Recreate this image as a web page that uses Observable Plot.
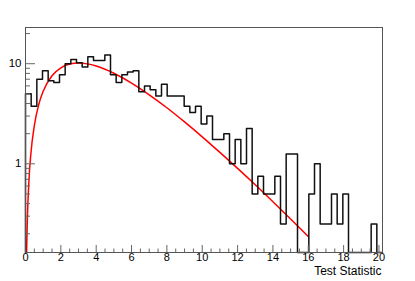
<!DOCTYPE html>
<html>
<head>
<meta charset="utf-8">
<script src="https://cdn.jsdelivr.net/npm/d3@7"></script>
<script src="https://cdn.jsdelivr.net/npm/@observablehq/plot@0.6"></script>
<style>
  html, body { margin: 0; padding: 0; background: #fff; }
  #chart { width: 415px; height: 281px; }
</style>
</head>
<body>
<div id="chart"></div>
<script>
// Histogram bin contents (63 equal bins spanning 0 .. xMax)
const counts = [
  5.0, 3.75, 7.0, 8.5, 6.75, 6.5, 7.75, 10.0, 11.0, 10.25,
  9.25, 11.75, 10.75, 10.75, 12.25, 7.75, 6.5, 7.75, 8.25, 8.5,
  5.25, 6.0, 5.5, 4.75, 6.25, 4.75, 4.75, 4.75, 3.75, 3.25,
  3.75, 2.5, 3.0, 1.75, 1.75, 2.0, 1.0, 1.75, 1.0, 2.25,
  0.5, 0.75, 0.5, 0.5, 0.75, 0.25, 1.25, 1.25, 0, 0,
  0.5, 1.0, 0.25, 0.25, 0.5, 0.25, 0.5, 0, 0, 0,
  0, 0.25, 0
];
const xMax = 20.2;

// Red curve
const curveX = [0.06, 0.1, 0.2, 0.3, 0.5, 0.75, 1, 1.5, 2, 2.5, 3, 3.5, 4, 5, 6, 7, 8, 9, 10, 11, 12, 13, 14, 15, 16];
const curveY = [0.125, 0.26, 0.71, 1.24, 2.41, 3.91, 5.31, 7.59, 9.1, 9.91, 10.14, 9.96, 9.47, 8.03, 6.4, 4.89, 3.63, 2.62, 1.86, 1.3, 0.9, 0.617, 0.418, 0.281, 0.188];

// Axis ticks
const xMajor = [0, 2, 4, 6, 8, 10, 12, 14, 16, 18, 20];
const xMinor = d3.range(0, 20.01, 0.5).filter(v => v % 2 !== 0);
const yMajor = [1, 10];
const yMinor = [0.2, 0.3, 0.4, 0.5, 0.6, 0.7, 0.8, 0.9, 2, 3, 4, 5, 6, 7, 8, 9, 20];
const yDomain = [0.13, 23];
const xTitle = "Test Statistic";

const W = 415, H = 281;
const mL = 25, mR = 33, mT = 27, mB = 29;
const fw = W - mL - mR, fh = H - mT - mB;

const binW = xMax / counts.length;
const floor = yDomain[0];
const histPts = [{x: 0, y: floor}]
  .concat(counts.map((c, i) => ({x: i * binW, y: c > 0 ? c : floor})))
  .concat([{x: xMax, y: counts[counts.length - 1] > 0 ? counts[counts.length - 1] : floor}, {x: xMax, y: floor}]);
const curvePts = curveX.map((x, i) => ({x, y: curveY[i]}));

const tickColor = "#666";
const chart = Plot.plot({
  width: W, height: H,
  marginLeft: mL, marginRight: mR, marginTop: mT, marginBottom: mB,
  style: {fontFamily: "'Liberation Sans', Arial, Helvetica, sans-serif", fontSize: "11px", color: "#000", background: "#fff"},
  x: {domain: [0, xMax]},
  y: {type: "log", domain: yDomain},
  marks: [
    Plot.line(curvePts, {x: "x", y: "y", stroke: "#ff0000", strokeWidth: 1.5, curve: "monotone-x", clip: true}),
    Plot.line(histPts, {x: "x", y: "y", stroke: "#111", strokeWidth: 1.5, curve: "step-after"}),
    Plot.ruleX(xMajor, {x: d => d, insetTop: fh - 7, stroke: tickColor}),
    Plot.ruleX(xMinor, {x: d => d, insetTop: fh - 3.5, stroke: tickColor}),
    Plot.ruleY(yMajor, {y: d => d, insetRight: fw - 10, stroke: tickColor}),
    Plot.ruleY(yMinor, {y: d => d, insetRight: fw - 5, stroke: tickColor}),
    Plot.axisX({ticks: xMajor, tickSize: 0, tickPadding: 1, fontSize: 11, label: null}),
    Plot.axisY({ticks: yMajor, tickSize: 0, tickPadding: 4, fontSize: 11.5, tickFormat: d => String(d), label: null}),
    Plot.frame({stroke: "#555", strokeWidth: 1}),
    Plot.text([xTitle], {text: d => d, frameAnchor: "bottom-right", textAnchor: "end", dy: 22, dx: -1, fontSize: 12})
  ]
});
document.getElementById("chart").appendChild(chart);
</script>
</body>
</html>
